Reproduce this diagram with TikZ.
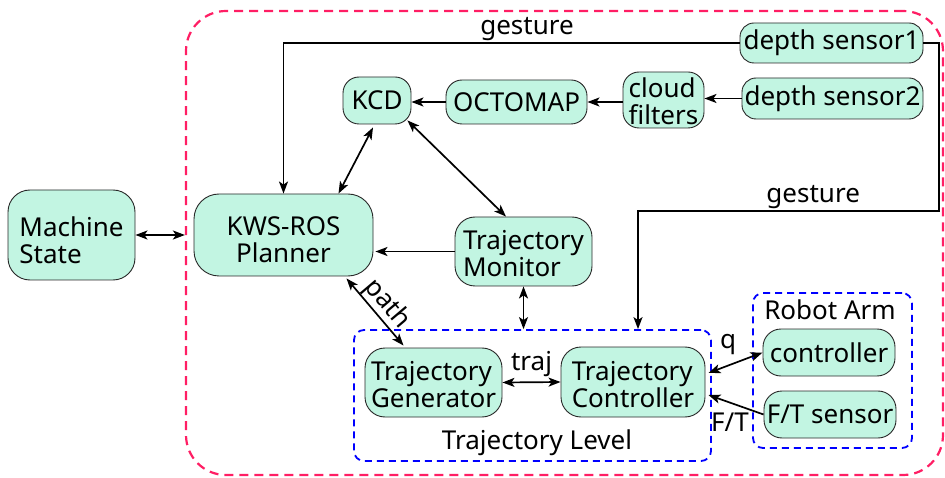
\documentclass[tikz,border=0pt]{standalone}
\usepackage{fontspec}
\setmainfont{Noto Sans}
\usetikzlibrary{arrows.meta,calc}
\definecolor{boxfill}{RGB}{194,245,226}
\definecolor{boxline}{RGB}{40,40,40}
\definecolor{outerpink}{RGB}{255,30,100}
\definecolor{levelblue}{RGB}{0,0,255}
\begin{document}
\begin{tikzpicture}[x=1pt,y=-1pt,
  every node/.style={font=\fontsize{26}{27}\selectfont, inner sep=0pt},
  blk/.style={draw=boxline, line width=0.9pt, fill=boxfill, rounded corners=16pt, align=left},
  txt/.style={align=left},
  outerbox/.style={draw=outerpink, line width=2.2pt, dash pattern=on 9pt off 6pt, rounded corners=40pt},
  levelbox/.style={draw=levelblue, line width=1.8pt, dash pattern=on 7pt off 5pt, rounded corners=10pt},
  conn/.style={line width=1.7pt, -{Stealth[length=12pt,width=9pt,inset=3pt]}},
  bconn/.style={line width=1.7pt, {Stealth[length=12pt,width=9pt,inset=3pt]}-{Stealth[length=12pt,width=9pt,inset=3pt]}}
]
\useasboundingbox (0,0) rectangle (945,478);

% frames
\node[outerbox, minimum width=757pt, minimum height=464pt] (outer) at (564.5,243) {};
\node[levelbox, minimum width=357pt, minimum height=131pt] (tl) at (532.5,395.5) {};
\node[levelbox, minimum width=159pt, minimum height=155pt] (ra) at (832.5,370.5) {};

% blocks
\node[blk, minimum width=127pt, minimum height=90pt, rounded corners=22pt] (ms) at (71.5,235) {};
\node[txt] (mst) at ([yshift=-5pt]ms.center) {Machine\\State};
\node[blk, minimum width=179pt, minimum height=82pt, rounded corners=25pt] (pl) at (283.5,235) {};
\node[align=center] (plt) at ([yshift=-5pt]pl.center) {KWS-ROS\\Planner};
\node[blk, minimum width=68pt, minimum height=47pt] (kcd) at (377,100.5) {KCD};
\node[blk, minimum width=141pt, minimum height=44pt] (oct) at (516.5,102) {OCTOMAP};
\node[blk, minimum width=81pt, minimum height=56pt] (cf) at (663.5,100) {};
\node[txt] (cft) at ([yshift=-1pt]cf.center) {cloud\\filters};
\node[blk, minimum width=183pt, minimum height=40pt, rounded corners=14pt] (ds1) at (831.5,43) {depth sensor1};
\node[blk, minimum width=181pt, minimum height=41pt, rounded corners=14pt] (ds2) at (832.5,98.5) {depth sensor2};
\node[blk, minimum width=137pt, minimum height=69pt, rounded corners=20pt] (mon) at (523.5,251.5) {};
\node[txt] (mont) at ([yshift=-2pt]mon.center) {Trajectory\\Monitor};
\node[blk, minimum width=137pt, minimum height=69pt, rounded corners=20pt] (gen) at (433.5,382.5) {};
\node[txt] (gent) at ([yshift=-2.5pt]gen.center) {Trajectory\\Generator};
\node[blk, minimum width=144pt, minimum height=70pt, rounded corners=20pt] (ctl) at (633,382) {};
\node[txt] (ctlt) at ([yshift=-2.5pt]ctl.center) {Trajectory\\Controller};
\node[blk, minimum width=132pt, minimum height=47pt, rounded corners=18pt] (rc) at (829,352.5) {controller};
\node[blk, minimum width=132pt, minimum height=47pt, rounded corners=18pt] (ft) at (830,414.5) {F/T sensor};

% frame labels
\node (ralab) at (830,310) {Robot Arm};
\node (tllab) at (537,443) {Trajectory Level};

% connectors
\draw[bconn] (ms.east) -- (ms.east -| outer.west);

\draw[conn] (ds1.west) -| (pl.north) node[pos=0.233, above=1pt] {gesture};
\coordinate (gturn) at (638,211);
\coordinate (gright) at (939,43);
\draw[conn] (ds1.east) -- (gright) |- (gturn) node[pos=0.709, above=1pt] {gesture} -- (gturn |- tl.north);

\draw[conn] (ds2.west) -- (cf.east |- ds2.west);
\draw[conn] (cf.west |- oct.east) -- (oct.east);
\draw[conn] (oct.west) -- (kcd.east |- oct.west);

\draw[bconn] ([xshift=-4pt,yshift=-3pt]kcd.south) -- ([xshift=55pt]pl.north);
\draw[bconn] ([xshift=-4pt,yshift=4pt]kcd.south east) -- ([xshift=-17.5pt]mon.north);
\draw[conn] (mon.west) -- ([xshift=2pt]mon.west -| pl.east);
\draw[bconn] (mon.south) -- (mon.south |- tl.north);

\draw[bconn] ([xshift=63pt,yshift=-2pt]pl.south) -- node[sloped, above=0.5pt, pos=0.52] (pathlab) {path} ([xshift=-30pt,yshift=2pt]gen.north);
\draw[bconn] (gen.east) -- node[above=5pt] (trajlab) {traj} (ctl.west);
\draw[bconn] (rc.west) -- ([xshift=3pt,yshift=9pt]ctl.east);
\draw[conn] (ft.west) -- ([xshift=3pt,yshift=-13pt]ctl.east);
\node (qlab) at (728,345) {q};
\node (ftlab) at (730,422) {F/T};
\end{tikzpicture}
\end{document}
